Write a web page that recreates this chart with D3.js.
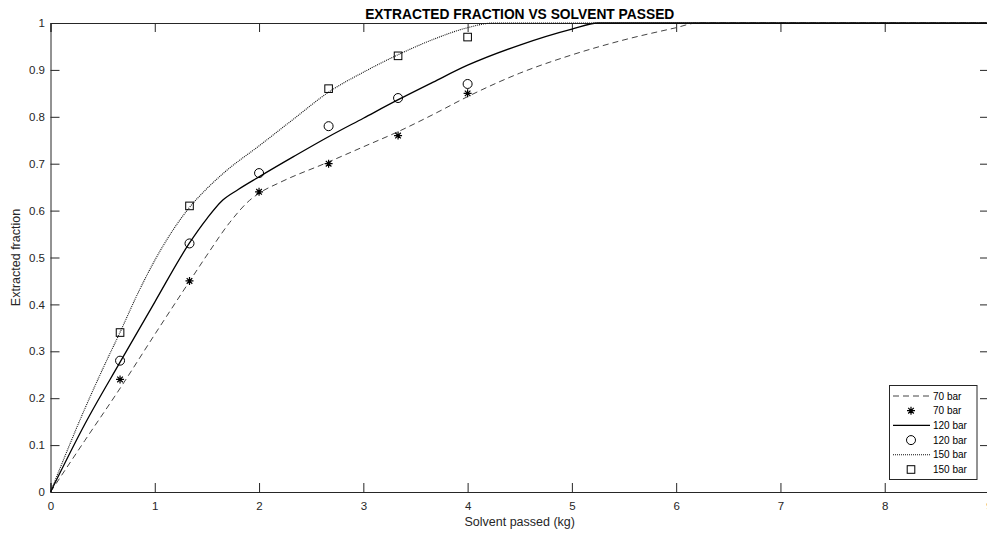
<!DOCTYPE html>
<html><head><meta charset="utf-8">
<script src="https://cdn.jsdelivr.net/npm/d3@7"></script>
<style>body{margin:0;background:#fff}svg{display:block}text{font-family:"Liberation Sans",Arial,Helvetica,sans-serif}</style>
</head><body><svg id="c" width="987" height="534"></svg>
<script>
// Model curves (Solvent passed kg -> extracted fraction)
const curve70x  = [0,0.33,0.67,1.0,1.33,1.5,1.72,1.91,2.0,2.2,2.67,3.0,3.33,3.67,4.0,4.5,5.0,5.5,6.0,6.2,7,8,9];
const curve70y  = [0,0.11,0.222,0.336,0.448,0.505,0.575,0.622,0.637,0.66,0.704,0.736,0.768,0.805,0.843,0.893,0.932,0.964,0.99,1,1,1,1];
const curve120x = [0,0.33,0.67,1.0,1.33,1.5,1.65,1.8,2.0,2.33,2.67,3.0,3.33,3.67,4.0,4.5,5.0,5.25,6,7,8,9];
const curve120y = [0,0.145,0.278,0.405,0.53,0.583,0.622,0.645,0.672,0.715,0.758,0.797,0.836,0.874,0.91,0.953,0.987,1,1,1,1,1];
const curve150x = [0,0.33,0.5,0.67,0.83,1.0,1.17,1.33,1.5,1.67,2.0,2.33,2.67,3.0,3.33,3.67,4.0,4.25,5,6,7,8,9];
const curve150y = [0,0.178,0.262,0.342,0.42,0.494,0.557,0.606,0.647,0.682,0.738,0.795,0.853,0.895,0.932,0.965,0.99,1,1,1,1,1,1];
// Experimental points
const exp70x  = [0.667,1.333,2,2.667,3.333,4];
const exp70y  = [0.24,0.45,0.64,0.70,0.76,0.85];
const exp120x = [0.667,1.333,2,2.667,3.333,4];
const exp120y = [0.28,0.53,0.68,0.78,0.84,0.87];
const exp150x = [0.667,1.333,2.667,3.333,4];
const exp150y = [0.34,0.61,0.86,0.93,0.97];
const xTicks = [0,1,2,3,4,5,6,7,8,9];
const yTicks = [0,0.1,0.2,0.3,0.4,0.5,0.6,0.7,0.8,0.9,1];
const legendLabels = ["70 bar","70 bar","120 bar","120 bar","150 bar","150 bar"];
const titleText = "EXTRACTED FRACTION VS SOLVENT PASSED";
const xLabel = "Solvent passed (kg)";
const yLabel = "Extracted fraction";

const svg = d3.select("#c");
const L=50.5, R=989, T=23, B=492;
const x = d3.scaleLinear().domain([0,9]).range([L,R]);
const y = d3.scaleLinear().domain([0,1]).range([B,T]);
const axCol="#262626";
const tl=9;

const g = svg.append("g");
const xa = g.append("g").attr("transform",`translate(0,${B})`)
  .call(d3.axisBottom(x).tickValues(xTicks).tickSize(-tl).tickPadding(10).tickFormat(d3.format("d")));
const xt = g.append("g").attr("transform",`translate(0,${T})`)
  .call(d3.axisTop(x).tickValues(xTicks).tickSize(-tl).tickFormat(""));
const ya = g.append("g").attr("transform",`translate(${L},0)`)
  .call(d3.axisLeft(y).tickValues(yTicks).tickSize(-tl).tickPadding(5.5).tickFormat(d=>d===0?"0":d===1?"1":d3.format(".1f")(d)));
const yr = g.append("g").attr("transform",`translate(${R},0)`)
  .call(d3.axisRight(y).tickValues(yTicks).tickSize(-tl).tickFormat(""));
[xa,xt,ya,yr].forEach(a=>{
  a.selectAll("path").attr("stroke",axCol).attr("stroke-width",1);
  a.selectAll("line").attr("stroke",axCol).attr("stroke-width",1);
  a.selectAll("text").attr("fill",axCol).attr("font-size",11.5).attr("font-family","Liberation Sans, Arial, sans-serif");
});

const line = d3.line().x(d=>x(d[0])).y(d=>y(d[1])).curve(d3.curveMonotoneX);
const styles = {
  s70:{stroke:"#444",dash:"6,4",w:1},
  s120:{stroke:"#000",dash:null,w:1.3},
  s150:{stroke:"#111",dash:"1,1",w:1.1}
};
function drawCurve(xs,ys,s){
  g.append("path").datum(xs.map((v,i)=>[v,ys[i]])).attr("d",line)
   .attr("fill","none").attr("stroke",s.stroke).attr("stroke-width",s.w)
   .attr("stroke-dasharray",s.dash);
}
drawCurve(curve70x,curve70y,styles.s70);
drawCurve(curve120x,curve120y,styles.s120);
drawCurve(curve150x,curve150y,styles.s150);

function star(sel,cx,cy){
  const r=4;
  const p=`M${cx-r},${cy}L${cx+r},${cy}M${cx},${cy-r}L${cx},${cy+r}M${cx-r*0.7},${cy-r*0.7}L${cx+r*0.7},${cy+r*0.7}M${cx-r*0.7},${cy+r*0.7}L${cx+r*0.7},${cy-r*0.7}`;
  sel.append("path").attr("d",p).attr("stroke","#000").attr("stroke-width",1.2).attr("fill","none");
}
function circ(sel,cx,cy){
  sel.append("circle").attr("cx",cx).attr("cy",cy).attr("r",4.5).attr("fill","none").attr("stroke","#000").attr("stroke-width",1);
}
function sq(sel,cx,cy){
  sel.append("rect").attr("x",cx-3.8).attr("y",cy-3.8).attr("width",7.6).attr("height",7.6).attr("fill","none").attr("stroke","#000").attr("stroke-width",1);
}
exp70x.forEach((v,i)=>star(g,x(v),y(exp70y[i])));
exp120x.forEach((v,i)=>circ(g,x(v),y(exp120y[i])));
exp150x.forEach((v,i)=>sq(g,x(v),y(exp150y[i])));

svg.append("text").attr("x",(L+R)/2).attr("y",19).attr("text-anchor","middle")
  .attr("font-size",13.8).attr("font-weight","bold").attr("fill","#000").text(titleText);
svg.append("text").attr("x",(L+R)/2).attr("y",526).attr("text-anchor","middle")
  .attr("font-size",12.5).attr("fill",axCol).text(xLabel);
svg.append("text").attr("transform",`translate(20,${(T+B)/2}) rotate(-90)`).attr("text-anchor","middle")
  .attr("font-size",12.5).attr("fill",axCol).text(yLabel);

const lg = svg.append("g");
const lx0=889.5, ly0=385.5, lw=87.5, lh=94;
lg.append("rect").attr("x",lx0).attr("y",ly0).attr("width",lw).attr("height",lh)
  .attr("fill","#fff").attr("stroke",axCol).attr("stroke-width",1);
const rowY = i=> ly0+10.5+i*14.7;
const items=[["line",styles.s70],["star"],["line",styles.s120],["circ"],["line",styles.s150],["sq"]];
items.forEach((it,i)=>{
  const cy=rowY(i);
  if(it[0]==="line"){
    const s=it[1];
    lg.append("line").attr("x1",893).attr("x2",930).attr("y1",cy).attr("y2",cy)
      .attr("stroke",s.stroke).attr("stroke-width",s.w).attr("stroke-dasharray",s.dash);
  } else if(it[0]==="star") star(lg,911,cy);
  else if(it[0]==="circ") circ(lg,911,cy);
  else sq(lg,911,cy);
  lg.append("text").attr("x",933).attr("y",cy+3.5).attr("font-size",10).attr("fill","#000").text(legendLabels[i]);
});
</script></body></html>
